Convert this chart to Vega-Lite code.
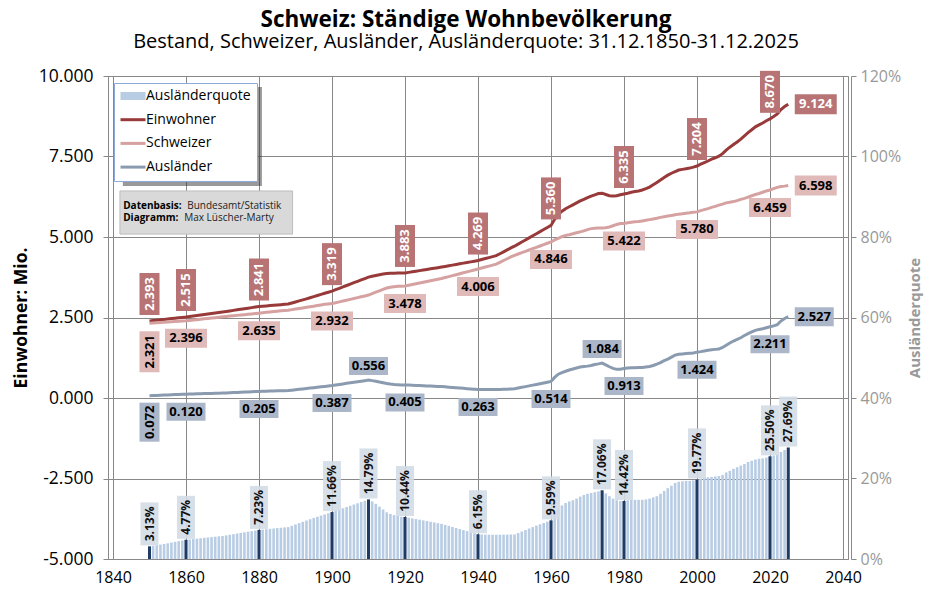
{
  "$schema": "https://vega.github.io/schema/vega-lite/v6.json",
  "width": 740,
  "height": 483,
  "autosize": {"type": "none"},
  "padding": {"left": 108, "top": 76, "right": 83, "bottom": 38},
  "background": "white",
  "config": {
    "font": "Open Sans",
    "view": {"stroke": "#888"},
    "axis": {"gridColor": "#888", "gridOpacity": 1, "domainColor": "#888", "tickColor": "#888"}
  },
  "title": {
    "text": "Schweiz: Ständige Wohnbevölkerung",
    "subtitle": "Bestand, Schweizer, Ausländer, Ausländerquote: 31.12.1850-31.12.2025",
    "anchor": "middle",
    "frame": "group",
    "dx": -12,
    "offset": 15,
    "fontSize": 22.5,
    "fontWeight": "bold",
    "color": "black",
    "subtitleFontSize": 20,
    "subtitleColor": "black",
    "subtitlePadding": 1
  },
  "data": {
    "values": [
      {"year": 1850, "Einwohner": 2.393, "Schweizer": 2.321, "Ausländer": 0.072, "quote": 0.0313},
      {"year": 1851, "Einwohner": 2.405, "Schweizer": 2.329, "Ausländer": 0.077, "quote": 0.0328},
      {"year": 1852, "Einwohner": 2.417, "Schweizer": 2.336, "Ausländer": 0.081, "quote": 0.0343},
      {"year": 1853, "Einwohner": 2.429, "Schweizer": 2.344, "Ausländer": 0.086, "quote": 0.0358},
      {"year": 1854, "Einwohner": 2.441, "Schweizer": 2.351, "Ausländer": 0.091, "quote": 0.0373},
      {"year": 1855, "Einwohner": 2.454, "Schweizer": 2.359, "Ausländer": 0.096, "quote": 0.0390},
      {"year": 1856, "Einwohner": 2.466, "Schweizer": 2.366, "Ausländer": 0.101, "quote": 0.0408},
      {"year": 1857, "Einwohner": 2.478, "Schweizer": 2.374, "Ausländer": 0.106, "quote": 0.0426},
      {"year": 1858, "Einwohner": 2.490, "Schweizer": 2.381, "Ausländer": 0.110, "quote": 0.0443},
      {"year": 1859, "Einwohner": 2.503, "Schweizer": 2.389, "Ausländer": 0.115, "quote": 0.0460},
      {"year": 1860, "Einwohner": 2.515, "Schweizer": 2.396, "Ausländer": 0.120, "quote": 0.0477},
      {"year": 1861, "Einwohner": 2.530, "Schweizer": 2.408, "Ausländer": 0.123, "quote": 0.0487},
      {"year": 1862, "Einwohner": 2.546, "Schweizer": 2.421, "Ausländer": 0.126, "quote": 0.0496},
      {"year": 1863, "Einwohner": 2.561, "Schweizer": 2.433, "Ausländer": 0.130, "quote": 0.0506},
      {"year": 1864, "Einwohner": 2.576, "Schweizer": 2.446, "Ausländer": 0.133, "quote": 0.0516},
      {"year": 1865, "Einwohner": 2.592, "Schweizer": 2.458, "Ausländer": 0.136, "quote": 0.0526},
      {"year": 1866, "Einwohner": 2.607, "Schweizer": 2.470, "Ausländer": 0.139, "quote": 0.0535},
      {"year": 1867, "Einwohner": 2.623, "Schweizer": 2.483, "Ausländer": 0.142, "quote": 0.0545},
      {"year": 1868, "Einwohner": 2.638, "Schweizer": 2.495, "Ausländer": 0.145, "quote": 0.0554},
      {"year": 1869, "Einwohner": 2.653, "Schweizer": 2.508, "Ausländer": 0.148, "quote": 0.0563},
      {"year": 1870, "Einwohner": 2.669, "Schweizer": 2.520, "Ausländer": 0.152, "quote": 0.0572},
      {"year": 1871, "Einwohner": 2.686, "Schweizer": 2.532, "Ausländer": 0.157, "quote": 0.0587},
      {"year": 1872, "Einwohner": 2.703, "Schweizer": 2.543, "Ausländer": 0.163, "quote": 0.0602},
      {"year": 1873, "Einwohner": 2.721, "Schweizer": 2.555, "Ausländer": 0.168, "quote": 0.0617},
      {"year": 1874, "Einwohner": 2.738, "Schweizer": 2.566, "Ausländer": 0.173, "quote": 0.0632},
      {"year": 1875, "Einwohner": 2.755, "Schweizer": 2.578, "Ausländer": 0.178, "quote": 0.0647},
      {"year": 1876, "Einwohner": 2.772, "Schweizer": 2.589, "Ausländer": 0.184, "quote": 0.0663},
      {"year": 1877, "Einwohner": 2.789, "Schweizer": 2.601, "Ausländer": 0.189, "quote": 0.0678},
      {"year": 1878, "Einwohner": 2.807, "Schweizer": 2.612, "Ausländer": 0.195, "quote": 0.0693},
      {"year": 1879, "Einwohner": 2.824, "Schweizer": 2.624, "Ausländer": 0.200, "quote": 0.0708},
      {"year": 1880, "Einwohner": 2.841, "Schweizer": 2.635, "Ausländer": 0.205, "quote": 0.0723},
      {"year": 1881, "Einwohner": 2.851, "Schweizer": 2.648, "Ausländer": 0.208, "quote": 0.0731},
      {"year": 1882, "Einwohner": 2.860, "Schweizer": 2.660, "Ausländer": 0.212, "quote": 0.0740},
      {"year": 1883, "Einwohner": 2.870, "Schweizer": 2.672, "Ausländer": 0.215, "quote": 0.0749},
      {"year": 1884, "Einwohner": 2.880, "Schweizer": 2.684, "Ausländer": 0.218, "quote": 0.0758},
      {"year": 1885, "Einwohner": 2.889, "Schweizer": 2.696, "Ausländer": 0.222, "quote": 0.0767},
      {"year": 1886, "Einwohner": 2.899, "Schweizer": 2.708, "Ausländer": 0.225, "quote": 0.0776},
      {"year": 1887, "Einwohner": 2.909, "Schweizer": 2.718, "Ausländer": 0.228, "quote": 0.0784},
      {"year": 1888, "Einwohner": 2.918, "Schweizer": 2.728, "Ausländer": 0.231, "quote": 0.0792},
      {"year": 1889, "Einwohner": 2.950, "Schweizer": 2.745, "Ausländer": 0.244, "quote": 0.0825},
      {"year": 1890, "Einwohner": 2.983, "Schweizer": 2.763, "Ausländer": 0.256, "quote": 0.0858},
      {"year": 1891, "Einwohner": 3.015, "Schweizer": 2.780, "Ausländer": 0.269, "quote": 0.0891},
      {"year": 1892, "Einwohner": 3.048, "Schweizer": 2.798, "Ausländer": 0.282, "quote": 0.0924},
      {"year": 1893, "Einwohner": 3.080, "Schweizer": 2.815, "Ausländer": 0.294, "quote": 0.0956},
      {"year": 1894, "Einwohner": 3.113, "Schweizer": 2.833, "Ausländer": 0.307, "quote": 0.0988},
      {"year": 1895, "Einwohner": 3.147, "Schweizer": 2.851, "Ausländer": 0.320, "quote": 0.1020},
      {"year": 1896, "Einwohner": 3.182, "Schweizer": 2.871, "Ausländer": 0.334, "quote": 0.1049},
      {"year": 1897, "Einwohner": 3.217, "Schweizer": 2.891, "Ausländer": 0.347, "quote": 0.1079},
      {"year": 1898, "Einwohner": 3.252, "Schweizer": 2.911, "Ausländer": 0.360, "quote": 0.1108},
      {"year": 1899, "Einwohner": 3.286, "Schweizer": 2.922, "Ausländer": 0.374, "quote": 0.1137},
      {"year": 1900, "Einwohner": 3.319, "Schweizer": 2.932, "Ausländer": 0.387, "quote": 0.1166},
      {"year": 1901, "Einwohner": 3.363, "Schweizer": 2.958, "Ausländer": 0.404, "quote": 0.1197},
      {"year": 1902, "Einwohner": 3.406, "Schweizer": 2.985, "Ausländer": 0.421, "quote": 0.1228},
      {"year": 1903, "Einwohner": 3.450, "Schweizer": 3.011, "Ausländer": 0.438, "quote": 0.1260},
      {"year": 1904, "Einwohner": 3.493, "Schweizer": 3.038, "Ausländer": 0.455, "quote": 0.1291},
      {"year": 1905, "Einwohner": 3.536, "Schweizer": 3.064, "Ausländer": 0.472, "quote": 0.1322},
      {"year": 1906, "Einwohner": 3.580, "Schweizer": 3.091, "Ausländer": 0.489, "quote": 0.1354},
      {"year": 1907, "Einwohner": 3.623, "Schweizer": 3.117, "Ausländer": 0.505, "quote": 0.1385},
      {"year": 1908, "Einwohner": 3.667, "Schweizer": 3.144, "Ausländer": 0.522, "quote": 0.1416},
      {"year": 1909, "Einwohner": 3.710, "Schweizer": 3.170, "Ausländer": 0.539, "quote": 0.1448},
      {"year": 1910, "Einwohner": 3.753, "Schweizer": 3.197, "Ausländer": 0.556, "quote": 0.1479},
      {"year": 1911, "Einwohner": 3.780, "Schweizer": 3.240, "Ausländer": 0.540, "quote": 0.1430},
      {"year": 1912, "Einwohner": 3.805, "Schweizer": 3.285, "Ausländer": 0.520, "quote": 0.1370},
      {"year": 1913, "Einwohner": 3.828, "Schweizer": 3.330, "Ausländer": 0.498, "quote": 0.1300},
      {"year": 1914, "Einwohner": 3.850, "Schweizer": 3.375, "Ausländer": 0.475, "quote": 0.1230},
      {"year": 1915, "Einwohner": 3.865, "Schweizer": 3.415, "Ausländer": 0.450, "quote": 0.1160},
      {"year": 1916, "Einwohner": 3.872, "Schweizer": 3.440, "Ausländer": 0.432, "quote": 0.1120},
      {"year": 1917, "Einwohner": 3.878, "Schweizer": 3.458, "Ausländer": 0.420, "quote": 0.1090},
      {"year": 1918, "Einwohner": 3.880, "Schweizer": 3.468, "Ausländer": 0.412, "quote": 0.1070},
      {"year": 1919, "Einwohner": 3.880, "Schweizer": 3.474, "Ausländer": 0.406, "quote": 0.1050},
      {"year": 1920, "Einwohner": 3.883, "Schweizer": 3.478, "Ausländer": 0.405, "quote": 0.1044},
      {"year": 1921, "Einwohner": 3.901, "Schweizer": 3.501, "Ausländer": 0.400, "quote": 0.1027},
      {"year": 1922, "Einwohner": 3.920, "Schweizer": 3.525, "Ausländer": 0.395, "quote": 0.1010},
      {"year": 1923, "Einwohner": 3.938, "Schweizer": 3.548, "Ausländer": 0.390, "quote": 0.0993},
      {"year": 1924, "Einwohner": 3.956, "Schweizer": 3.571, "Ausländer": 0.385, "quote": 0.0976},
      {"year": 1925, "Einwohner": 3.975, "Schweizer": 3.595, "Ausländer": 0.380, "quote": 0.0959},
      {"year": 1926, "Einwohner": 3.993, "Schweizer": 3.618, "Ausländer": 0.375, "quote": 0.0942},
      {"year": 1927, "Einwohner": 4.011, "Schweizer": 3.641, "Ausländer": 0.370, "quote": 0.0925},
      {"year": 1928, "Einwohner": 4.029, "Schweizer": 3.664, "Ausländer": 0.365, "quote": 0.0908},
      {"year": 1929, "Einwohner": 4.048, "Schweizer": 3.688, "Ausländer": 0.360, "quote": 0.0890},
      {"year": 1930, "Einwohner": 4.066, "Schweizer": 3.711, "Ausländer": 0.355, "quote": 0.0873},
      {"year": 1931, "Einwohner": 4.086, "Schweizer": 3.741, "Ausländer": 0.346, "quote": 0.0847},
      {"year": 1932, "Einwohner": 4.107, "Schweizer": 3.770, "Ausländer": 0.337, "quote": 0.0821},
      {"year": 1933, "Einwohner": 4.127, "Schweizer": 3.800, "Ausländer": 0.327, "quote": 0.0796},
      {"year": 1934, "Einwohner": 4.147, "Schweizer": 3.829, "Ausländer": 0.318, "quote": 0.0770},
      {"year": 1935, "Einwohner": 4.168, "Schweizer": 3.859, "Ausländer": 0.309, "quote": 0.0744},
      {"year": 1936, "Einwohner": 4.188, "Schweizer": 3.888, "Ausländer": 0.300, "quote": 0.0718},
      {"year": 1937, "Einwohner": 4.208, "Schweizer": 3.918, "Ausländer": 0.291, "quote": 0.0692},
      {"year": 1938, "Einwohner": 4.228, "Schweizer": 3.947, "Ausländer": 0.281, "quote": 0.0667},
      {"year": 1939, "Einwohner": 4.249, "Schweizer": 3.977, "Ausländer": 0.272, "quote": 0.0641},
      {"year": 1940, "Einwohner": 4.269, "Schweizer": 4.006, "Ausländer": 0.263, "quote": 0.0615},
      {"year": 1941, "Einwohner": 4.300, "Schweizer": 4.036, "Ausländer": 0.262, "quote": 0.0610},
      {"year": 1942, "Einwohner": 4.330, "Schweizer": 4.066, "Ausländer": 0.262, "quote": 0.0605},
      {"year": 1943, "Einwohner": 4.360, "Schweizer": 4.097, "Ausländer": 0.262, "quote": 0.0603},
      {"year": 1944, "Einwohner": 4.390, "Schweizer": 4.127, "Ausländer": 0.263, "quote": 0.0602},
      {"year": 1945, "Einwohner": 4.420, "Schweizer": 4.157, "Ausländer": 0.264, "quote": 0.0602},
      {"year": 1946, "Einwohner": 4.480, "Schweizer": 4.214, "Ausländer": 0.266, "quote": 0.0603},
      {"year": 1947, "Einwohner": 4.540, "Schweizer": 4.270, "Ausländer": 0.270, "quote": 0.0605},
      {"year": 1948, "Einwohner": 4.600, "Schweizer": 4.325, "Ausländer": 0.275, "quote": 0.0607},
      {"year": 1949, "Einwohner": 4.660, "Schweizer": 4.380, "Ausländer": 0.280, "quote": 0.0609},
      {"year": 1950, "Einwohner": 4.715, "Schweizer": 4.430, "Ausländer": 0.285, "quote": 0.0610},
      {"year": 1951, "Einwohner": 4.780, "Schweizer": 4.472, "Ausländer": 0.308, "quote": 0.0644},
      {"year": 1952, "Einwohner": 4.844, "Schweizer": 4.513, "Ausländer": 0.331, "quote": 0.0683},
      {"year": 1953, "Einwohner": 4.909, "Schweizer": 4.555, "Ausländer": 0.354, "quote": 0.0720},
      {"year": 1954, "Einwohner": 4.973, "Schweizer": 4.596, "Ausländer": 0.377, "quote": 0.0757},
      {"year": 1955, "Einwohner": 5.038, "Schweizer": 4.638, "Ausländer": 0.400, "quote": 0.0793},
      {"year": 1956, "Einwohner": 5.102, "Schweizer": 4.680, "Ausländer": 0.422, "quote": 0.0828},
      {"year": 1957, "Einwohner": 5.167, "Schweizer": 4.721, "Ausländer": 0.445, "quote": 0.0862},
      {"year": 1958, "Einwohner": 5.231, "Schweizer": 4.763, "Ausländer": 0.468, "quote": 0.0895},
      {"year": 1959, "Einwohner": 5.296, "Schweizer": 4.805, "Ausländer": 0.491, "quote": 0.0927},
      {"year": 1960, "Einwohner": 5.360, "Schweizer": 4.846, "Ausländer": 0.514, "quote": 0.0959},
      {"year": 1961, "Einwohner": 5.550, "Schweizer": 4.910, "Ausländer": 0.640, "quote": 0.1150},
      {"year": 1962, "Einwohner": 5.700, "Schweizer": 4.960, "Ausländer": 0.740, "quote": 0.1250},
      {"year": 1963, "Einwohner": 5.800, "Schweizer": 5.010, "Ausländer": 0.790, "quote": 0.1330},
      {"year": 1964, "Einwohner": 5.880, "Schweizer": 5.050, "Ausländer": 0.830, "quote": 0.1390},
      {"year": 1965, "Einwohner": 5.940, "Schweizer": 5.070, "Ausländer": 0.870, "quote": 0.1430},
      {"year": 1966, "Einwohner": 6.000, "Schweizer": 5.100, "Ausländer": 0.900, "quote": 0.1460},
      {"year": 1967, "Einwohner": 6.060, "Schweizer": 5.130, "Ausländer": 0.930, "quote": 0.1500},
      {"year": 1968, "Einwohner": 6.120, "Schweizer": 5.160, "Ausländer": 0.960, "quote": 0.1550},
      {"year": 1969, "Einwohner": 6.170, "Schweizer": 5.190, "Ausländer": 0.980, "quote": 0.1590},
      {"year": 1970, "Einwohner": 6.220, "Schweizer": 5.230, "Ausländer": 0.990, "quote": 0.1620},
      {"year": 1971, "Einwohner": 6.270, "Schweizer": 5.260, "Ausländer": 1.010, "quote": 0.1640},
      {"year": 1972, "Einwohner": 6.310, "Schweizer": 5.270, "Ausländer": 1.040, "quote": 0.1660},
      {"year": 1973, "Einwohner": 6.350, "Schweizer": 5.280, "Ausländer": 1.060, "quote": 0.1680},
      {"year": 1974, "Einwohner": 6.360, "Schweizer": 5.280, "Ausländer": 1.084, "quote": 0.1706},
      {"year": 1975, "Einwohner": 6.320, "Schweizer": 5.290, "Ausländer": 1.030, "quote": 0.1630},
      {"year": 1976, "Einwohner": 6.280, "Schweizer": 5.310, "Ausländer": 0.970, "quote": 0.1560},
      {"year": 1977, "Einwohner": 6.270, "Schweizer": 5.350, "Ausländer": 0.920, "quote": 0.1500},
      {"year": 1978, "Einwohner": 6.280, "Schweizer": 5.390, "Ausländer": 0.890, "quote": 0.1460},
      {"year": 1979, "Einwohner": 6.310, "Schweizer": 5.420, "Ausländer": 0.890, "quote": 0.1440},
      {"year": 1980, "Einwohner": 6.335, "Schweizer": 5.422, "Ausländer": 0.913, "quote": 0.1442},
      {"year": 1981, "Einwohner": 6.360, "Schweizer": 5.440, "Ausländer": 0.930, "quote": 0.1460},
      {"year": 1982, "Einwohner": 6.390, "Schweizer": 5.460, "Ausländer": 0.940, "quote": 0.1470},
      {"year": 1983, "Einwohner": 6.410, "Schweizer": 5.470, "Ausländer": 0.940, "quote": 0.1470},
      {"year": 1984, "Einwohner": 6.430, "Schweizer": 5.480, "Ausländer": 0.945, "quote": 0.1470},
      {"year": 1985, "Einwohner": 6.460, "Schweizer": 5.500, "Ausländer": 0.950, "quote": 0.1470},
      {"year": 1986, "Einwohner": 6.500, "Schweizer": 5.520, "Ausländer": 0.965, "quote": 0.1480},
      {"year": 1987, "Einwohner": 6.550, "Schweizer": 5.540, "Ausländer": 0.980, "quote": 0.1500},
      {"year": 1988, "Einwohner": 6.620, "Schweizer": 5.560, "Ausländer": 1.010, "quote": 0.1530},
      {"year": 1989, "Einwohner": 6.690, "Schweizer": 5.580, "Ausländer": 1.050, "quote": 0.1560},
      {"year": 1990, "Einwohner": 6.770, "Schweizer": 5.610, "Ausländer": 1.100, "quote": 0.1620},
      {"year": 1991, "Einwohner": 6.850, "Schweizer": 5.630, "Ausländer": 1.160, "quote": 0.1690},
      {"year": 1992, "Einwohner": 6.920, "Schweizer": 5.650, "Ausländer": 1.210, "quote": 0.1760},
      {"year": 1993, "Einwohner": 6.980, "Schweizer": 5.670, "Ausländer": 1.270, "quote": 0.1820},
      {"year": 1994, "Einwohner": 7.030, "Schweizer": 5.690, "Ausländer": 1.330, "quote": 0.1890},
      {"year": 1995, "Einwohner": 7.080, "Schweizer": 5.710, "Ausländer": 1.360, "quote": 0.1920},
      {"year": 1996, "Einwohner": 7.100, "Schweizer": 5.720, "Ausländer": 1.370, "quote": 0.1930},
      {"year": 1997, "Einwohner": 7.120, "Schweizer": 5.740, "Ausländer": 1.380, "quote": 0.1940},
      {"year": 1998, "Einwohner": 7.140, "Schweizer": 5.750, "Ausländer": 1.390, "quote": 0.1940},
      {"year": 1999, "Einwohner": 7.170, "Schweizer": 5.770, "Ausländer": 1.400, "quote": 0.1950},
      {"year": 2000, "Einwohner": 7.204, "Schweizer": 5.780, "Ausländer": 1.424, "quote": 0.1977},
      {"year": 2001, "Einwohner": 7.260, "Schweizer": 5.820, "Ausländer": 1.440, "quote": 0.2000},
      {"year": 2002, "Einwohner": 7.310, "Schweizer": 5.850, "Ausländer": 1.460, "quote": 0.2020},
      {"year": 2003, "Einwohner": 7.360, "Schweizer": 5.880, "Ausländer": 1.480, "quote": 0.2030},
      {"year": 2004, "Einwohner": 7.420, "Schweizer": 5.920, "Ausländer": 1.500, "quote": 0.2040},
      {"year": 2005, "Einwohner": 7.460, "Schweizer": 5.950, "Ausländer": 1.510, "quote": 0.2050},
      {"year": 2006, "Einwohner": 7.510, "Schweizer": 5.990, "Ausländer": 1.520, "quote": 0.2060},
      {"year": 2007, "Einwohner": 7.590, "Schweizer": 6.020, "Ausländer": 1.570, "quote": 0.2090},
      {"year": 2008, "Einwohner": 7.700, "Schweizer": 6.060, "Ausländer": 1.640, "quote": 0.2150},
      {"year": 2009, "Einwohner": 7.790, "Schweizer": 6.080, "Ausländer": 1.710, "quote": 0.2190},
      {"year": 2010, "Einwohner": 7.870, "Schweizer": 6.100, "Ausländer": 1.770, "quote": 0.2240},
      {"year": 2011, "Einwohner": 7.950, "Schweizer": 6.130, "Ausländer": 1.820, "quote": 0.2280},
      {"year": 2012, "Einwohner": 8.040, "Schweizer": 6.170, "Ausländer": 1.870, "quote": 0.2320},
      {"year": 2013, "Einwohner": 8.140, "Schweizer": 6.200, "Ausländer": 1.940, "quote": 0.2360},
      {"year": 2014, "Einwohner": 8.240, "Schweizer": 6.240, "Ausländer": 2.000, "quote": 0.2410},
      {"year": 2015, "Einwohner": 8.330, "Schweizer": 6.280, "Ausländer": 2.050, "quote": 0.2440},
      {"year": 2016, "Einwohner": 8.420, "Schweizer": 6.320, "Ausländer": 2.100, "quote": 0.2470},
      {"year": 2017, "Einwohner": 8.480, "Schweizer": 6.350, "Ausländer": 2.130, "quote": 0.2490},
      {"year": 2018, "Einwohner": 8.540, "Schweizer": 6.390, "Ausländer": 2.150, "quote": 0.2500},
      {"year": 2019, "Einwohner": 8.610, "Schweizer": 6.430, "Ausländer": 2.180, "quote": 0.2520},
      {"year": 2020, "Einwohner": 8.670, "Schweizer": 6.459, "Ausländer": 2.211, "quote": 0.2550},
      {"year": 2021, "Einwohner": 8.740, "Schweizer": 6.500, "Ausländer": 2.240, "quote": 0.2570},
      {"year": 2022, "Einwohner": 8.820, "Schweizer": 6.540, "Ausländer": 2.280, "quote": 0.2600},
      {"year": 2023, "Einwohner": 8.960, "Schweizer": 6.570, "Ausländer": 2.390, "quote": 0.2660},
      {"year": 2024, "Einwohner": 9.050, "Schweizer": 6.580, "Ausländer": 2.470, "quote": 0.2710},
      {"year": 2025, "Einwohner": 9.124, "Schweizer": 6.598, "Ausländer": 2.527, "quote": 0.2769}
    ]
  },
  "encoding": {
    "x": {
      "field": "year",
      "type": "quantitative",
      "scale": {"domain": [1840, 2040], "nice": false, "zero": false},
      "axis": {
        "values": [1840, 1860, 1880, 1900, 1920, 1940, 1960, 1980, 2000, 2020, 2040],
        "format": "d",
        "title": null,
        "grid": true,
        "ticks": false,
        "labelFlush": false,
        "labelOverlap": false,
        "labelFontSize": 16,
        "labelColor": "black",
        "labelPadding": 10
      }
    }
  },
  "layer": [
    {
      "encoding": {
        "y": {
          "field": "quote",
          "type": "quantitative",
          "scale": {"domain": [0, 1.2], "nice": false},
          "axis": {
            "orient": "right",
            "values": [0, 0.2, 0.4, 0.6, 0.8, 1.0, 1.2],
            "format": ".0%",
            "grid": false,
            "offset": 3,
            "tickSize": 5,
            "labelPadding": 4,
            "labelFontSize": 16,
            "labelColor": "#999",
            "title": "Ausländerquote",
            "titleAngle": 270,
            "titleColor": "#999",
            "titleFontSize": 15,
            "titleFontWeight": "bold",
            "titlePadding": 22
          }
        }
      },
      "layer": [
        {
          "mark": {"type": "bar", "width": 2.6},
          "encoding": {"color": {"datum": "Ausländerquote"}}
        },
        {
          "transform": [{"filter": {"field": "year", "oneOf": [1850, 1860, 1880, 1900, 1910, 1920, 1940, 1960, 1974, 1980, 2000, 2020, 2025]}}],
          "mark": {"type": "bar", "width": 3, "color": "#1f3a63"}
        },
        {
          "transform": [
            {"filter": {"field": "year", "oneOf": [1850, 1860, 1880, 1900, 1910, 1920, 1940, 1960, 1974, 1980, 2000, 2020, 2025]}},
            {"filter": "datum.quote < 0.1"}
          ],
          "mark": {"type": "rect", "color": "#d3dbe7", "opacity": 0.9, "xOffset": -9, "x2Offset": 9, "yOffset": -44, "y2Offset": -1},
          "encoding": {"x2": {"field": "year"}, "y2": {"field": "quote"}}
        },
        {
          "transform": [
            {"filter": {"field": "year", "oneOf": [1850, 1860, 1880, 1900, 1910, 1920, 1940, 1960, 1974, 1980, 2000, 2020, 2025]}},
            {"filter": "datum.quote >= 0.1"}
          ],
          "mark": {"type": "rect", "color": "#d3dbe7", "opacity": 0.9, "xOffset": -9, "x2Offset": 9, "yOffset": -51, "y2Offset": -1},
          "encoding": {"x2": {"field": "year"}, "y2": {"field": "quote"}}
        },
        {
          "transform": [
            {"filter": {"field": "year", "oneOf": [1850, 1860, 1880, 1900, 1910, 1920, 1940, 1960, 1974, 1980, 2000, 2020, 2025]}},
            {"filter": "datum.quote < 0.1"}
          ],
          "mark": {"type": "text", "angle": 270, "fontSize": 12, "fontWeight": "bold", "color": "#111", "baseline": "middle", "align": "center", "yOffset": -22.5},
          "encoding": {"text": {"field": "quote", "format": ".2%"}}
        },
        {
          "transform": [
            {"filter": {"field": "year", "oneOf": [1850, 1860, 1880, 1900, 1910, 1920, 1940, 1960, 1974, 1980, 2000, 2020, 2025]}},
            {"filter": "datum.quote >= 0.1"}
          ],
          "mark": {"type": "text", "angle": 270, "fontSize": 12, "fontWeight": "bold", "color": "#111", "baseline": "middle", "align": "center", "yOffset": -26},
          "encoding": {"text": {"field": "quote", "format": ".2%"}}
        }
      ]
    },
    {
      "transform": [{"fold": ["Einwohner", "Schweizer", "Ausländer"], "as": ["serie", "wert"]}],
      "encoding": {
        "y": {
          "field": "wert",
          "type": "quantitative",
          "scale": {"domain": [-5, 10], "nice": false, "zero": false},
          "axis": {
            "orient": "left",
            "values": [-5, -2.5, 0, 2.5, 5, 7.5, 10],
            "labelExpr": "replace(format(datum.value, '.3f'), '−', '-')",
            "grid": true,
            "tickSize": 5,
            "labelPadding": 10,
            "labelFontSize": 17.5,
            "labelColor": "black",
            "title": "Einwohner: Mio.",
            "titleFontSize": 17.5,
            "titleFontWeight": "bold",
            "titleColor": "black",
            "titlePadding": 8
          }
        }
      },
      "layer": [
        {
          "mark": {"type": "line", "strokeWidth": 3},
          "encoding": {
            "color": {
              "field": "serie",
              "type": "nominal",
              "scale": {
                "domain": ["Ausländerquote", "Einwohner", "Schweizer", "Ausländer"],
                "range": ["#b8cce4", "#983a3a", "#d6a1a1", "#8a9bb0"]
              },
              "legend": {
                "title": null,
                "orient": "none",
                "legendX": 6,
                "legendY": 7,
                "symbolType": "stroke",
                "symbolSize": 625,
                "symbolStrokeWidth": 3,
                "symbolOffset": 6,
                "labelFontSize": 14,
                "labelColor": "black",
                "labelOffset": 6,
                "padding": 6,
                "rowPadding": 9.7,
                "strokeColor": "#8eaadb",
                "fillColor": "white",
                "encode": {
                  "symbols": {
                    "update": {
                      "shape": {"signal": "datum.value === 'Ausländerquote' ? 'M-1,-0.32H1V0.32H-1Z' : 'stroke'"},
                      "stroke": {"scale": "color", "field": "value"},
                      "fill": {"signal": "datum.value === 'Ausländerquote' ? '#b8cce4' : 'transparent'"},
                      "strokeWidth": {"signal": "datum.value === 'Ausländerquote' ? 0 : 3"}
                    }
                  }
                }
              }
            }
          }
        },
        {
          "transform": [
            {"filter": {"field": "serie", "equal": "Einwohner"}},
            {"filter": {"field": "year", "oneOf": [1850, 1860, 1880, 1900, 1920, 1940, 1960, 1980, 2000, 2020]}}
          ],
          "mark": {"type": "rect", "color": "#b87474", "xOffset": -10, "x2Offset": 10, "yOffset": -48, "y2Offset": -6},
          "encoding": {"x2": {"field": "year"}, "y2": {"field": "wert"}}
        },
        {
          "transform": [
            {"filter": {"field": "serie", "equal": "Einwohner"}},
            {"filter": {"field": "year", "oneOf": [1850, 1860, 1880, 1900, 1920, 1940, 1960, 1980, 2000, 2020]}}
          ],
          "mark": {"type": "text", "angle": 270, "fontSize": 13, "fontWeight": "bold", "color": "white", "align": "center", "baseline": "middle", "yOffset": -27},
          "encoding": {"text": {"field": "wert", "format": ".3f"}}
        },
        {
          "transform": [
            {"filter": {"field": "serie", "equal": "Einwohner"}},
            {"filter": {"field": "year", "equal": 2025}}
          ],
          "mark": {"type": "rect", "color": "#b87474", "xOffset": 6.5, "x2Offset": 48.5, "yOffset": -10, "y2Offset": 10},
          "encoding": {"x2": {"field": "year"}, "y2": {"field": "wert"}}
        },
        {
          "transform": [
            {"filter": {"field": "serie", "equal": "Einwohner"}},
            {"filter": {"field": "year", "equal": 2025}}
          ],
          "mark": {"type": "text", "fontSize": 13, "fontWeight": "bold", "color": "white", "align": "center", "baseline": "middle", "xOffset": 27.5},
          "encoding": {"text": {"field": "wert", "format": ".3f"}}
        },
        {
          "transform": [
            {"filter": {"field": "serie", "equal": "Schweizer"}},
            {"filter": {"field": "year", "oneOf": [1860, 1880, 1900, 1920, 1940, 1960, 1980, 2000, 2020]}}
          ],
          "mark": {"type": "rect", "color": "#e0b9b9", "xOffset": -21, "x2Offset": 21, "yOffset": 8, "y2Offset": 27},
          "encoding": {"x2": {"field": "year"}, "y2": {"field": "wert"}}
        },
        {
          "transform": [
            {"filter": {"field": "serie", "equal": "Schweizer"}},
            {"filter": {"field": "year", "oneOf": [1860, 1880, 1900, 1920, 1940, 1960, 1980, 2000, 2020]}}
          ],
          "mark": {"type": "text", "fontSize": 13, "fontWeight": "bold", "color": "black", "align": "center", "baseline": "middle", "yOffset": 17.5},
          "encoding": {"text": {"field": "wert", "format": ".3f"}}
        },
        {
          "transform": [
            {"filter": {"field": "serie", "equal": "Schweizer"}},
            {"filter": {"field": "year", "equal": 1850}}
          ],
          "mark": {"type": "rect", "color": "#e0b9b9", "xOffset": -10, "x2Offset": 10, "yOffset": 8, "y2Offset": 49},
          "encoding": {"x2": {"field": "year"}, "y2": {"field": "wert"}}
        },
        {
          "transform": [
            {"filter": {"field": "serie", "equal": "Schweizer"}},
            {"filter": {"field": "year", "equal": 1850}}
          ],
          "mark": {"type": "text", "angle": 270, "fontSize": 13, "fontWeight": "bold", "color": "black", "align": "center", "baseline": "middle", "yOffset": 28.5},
          "encoding": {"text": {"field": "wert", "format": ".3f"}}
        },
        {
          "transform": [
            {"filter": {"field": "serie", "equal": "Schweizer"}},
            {"filter": {"field": "year", "equal": 2025}}
          ],
          "mark": {"type": "rect", "color": "#e0b9b9", "xOffset": 6.5, "x2Offset": 48.5, "yOffset": -10, "y2Offset": 10},
          "encoding": {"x2": {"field": "year"}, "y2": {"field": "wert"}}
        },
        {
          "transform": [
            {"filter": {"field": "serie", "equal": "Schweizer"}},
            {"filter": {"field": "year", "equal": 2025}}
          ],
          "mark": {"type": "text", "fontSize": 13, "fontWeight": "bold", "color": "black", "align": "center", "baseline": "middle", "xOffset": 27.5},
          "encoding": {"text": {"field": "wert", "format": ".3f"}}
        },
        {
          "transform": [
            {"filter": {"field": "serie", "equal": "Ausländer"}},
            {"filter": {"field": "year", "oneOf": [1860, 1880, 1900, 1920, 1940, 1960, 1980, 2000, 2020]}}
          ],
          "mark": {"type": "rect", "color": "#abb7c8", "xOffset": -19.5, "x2Offset": 19.5, "yOffset": 8.5, "y2Offset": 26.5},
          "encoding": {"x2": {"field": "year"}, "y2": {"field": "wert"}}
        },
        {
          "transform": [
            {"filter": {"field": "serie", "equal": "Ausländer"}},
            {"filter": {"field": "year", "oneOf": [1860, 1880, 1900, 1920, 1940, 1960, 1980, 2000, 2020]}}
          ],
          "mark": {"type": "text", "fontSize": 13, "fontWeight": "bold", "color": "black", "align": "center", "baseline": "middle", "yOffset": 17.5},
          "encoding": {"text": {"field": "wert", "format": ".3f"}}
        },
        {
          "transform": [
            {"filter": {"field": "serie", "equal": "Ausländer"}},
            {"filter": {"field": "year", "oneOf": [1910, 1974]}}
          ],
          "mark": {"type": "rect", "color": "#abb7c8", "xOffset": -19.5, "x2Offset": 19.5, "yOffset": -23, "y2Offset": -5},
          "encoding": {"x2": {"field": "year"}, "y2": {"field": "wert"}}
        },
        {
          "transform": [
            {"filter": {"field": "serie", "equal": "Ausländer"}},
            {"filter": {"field": "year", "oneOf": [1910, 1974]}}
          ],
          "mark": {"type": "text", "fontSize": 13, "fontWeight": "bold", "color": "black", "align": "center", "baseline": "middle", "yOffset": -14},
          "encoding": {"text": {"field": "wert", "format": ".3f"}}
        },
        {
          "transform": [
            {"filter": {"field": "serie", "equal": "Ausländer"}},
            {"filter": {"field": "year", "equal": 1850}}
          ],
          "mark": {"type": "rect", "color": "#abb7c8", "xOffset": -10, "x2Offset": 10, "yOffset": 7, "y2Offset": 46},
          "encoding": {"x2": {"field": "year"}, "y2": {"field": "wert"}}
        },
        {
          "transform": [
            {"filter": {"field": "serie", "equal": "Ausländer"}},
            {"filter": {"field": "year", "equal": 1850}}
          ],
          "mark": {"type": "text", "angle": 270, "fontSize": 13, "fontWeight": "bold", "color": "black", "align": "center", "baseline": "middle", "yOffset": 26.5},
          "encoding": {"text": {"field": "wert", "format": ".3f"}}
        },
        {
          "transform": [
            {"filter": {"field": "serie", "equal": "Ausländer"}},
            {"filter": {"field": "year", "equal": 2025}}
          ],
          "mark": {"type": "rect", "color": "#abb7c8", "xOffset": 6.5, "x2Offset": 45.5, "yOffset": -9.5, "y2Offset": 9.5},
          "encoding": {"x2": {"field": "year"}, "y2": {"field": "wert"}}
        },
        {
          "transform": [
            {"filter": {"field": "serie", "equal": "Ausländer"}},
            {"filter": {"field": "year", "equal": 2025}}
          ],
          "mark": {"type": "text", "fontSize": 13, "fontWeight": "bold", "color": "black", "align": "center", "baseline": "middle", "xOffset": 26},
          "encoding": {"text": {"field": "wert", "format": ".3f"}}
        },
        {
          "transform": [
            {"filter": {"field": "serie", "equal": "Einwohner"}},
            {"filter": {"field": "year", "equal": 1850}}
          ],
          "mark": {"type": "rect", "fill": "#333", "opacity": 0.5},
          "encoding": {
            "x": {"datum": 1842.7, "type": "quantitative"},
            "x2": {"datum": 1880.8},
            "y": {"datum": 9.66, "type": "quantitative", "title": "Einwohner: Mio."},
            "y2": {"datum": 6.58}
          }
        },
        {
          "transform": [
            {"filter": {"field": "serie", "equal": "Einwohner"}},
            {"filter": {"field": "year", "equal": 1850}}
          ],
          "mark": {"type": "rect", "fill": "#d9d9d9", "stroke": "#bdbdbd", "strokeWidth": 1},
          "encoding": {
            "x": {"datum": 1841.9, "type": "quantitative"},
            "x2": {"datum": 1889.2},
            "y": {"datum": 6.43, "type": "quantitative", "title": "Einwohner: Mio."},
            "y2": {"datum": 5.09}
          }
        },
        {
          "transform": [
            {"filter": {"field": "serie", "equal": "Einwohner"}},
            {"filter": {"field": "year", "equal": 1850}}
          ],
          "mark": {"type": "text", "text": "Datenbasis:", "fontSize": 10, "fontWeight": "bold", "color": "black", "align": "left", "baseline": "middle"},
          "encoding": {
            "x": {"datum": 1842.8, "type": "quantitative"},
            "y": {"datum": 5.96, "type": "quantitative", "title": "Einwohner: Mio."}
          }
        },
        {
          "transform": [
            {"filter": {"field": "serie", "equal": "Einwohner"}},
            {"filter": {"field": "year", "equal": 1850}}
          ],
          "mark": {"type": "text", "text": "Bundesamt/Statistik", "fontSize": 10, "color": "#222", "align": "left", "baseline": "middle", "xOffset": 64},
          "encoding": {
            "x": {"datum": 1842.8, "type": "quantitative"},
            "y": {"datum": 5.96, "type": "quantitative", "title": "Einwohner: Mio."}
          }
        },
        {
          "transform": [
            {"filter": {"field": "serie", "equal": "Einwohner"}},
            {"filter": {"field": "year", "equal": 1850}}
          ],
          "mark": {"type": "text", "text": "Diagramm:", "fontSize": 10, "fontWeight": "bold", "color": "black", "align": "left", "baseline": "middle"},
          "encoding": {
            "x": {"datum": 1842.8, "type": "quantitative"},
            "y": {"datum": 5.58, "type": "quantitative", "title": "Einwohner: Mio."}
          }
        },
        {
          "transform": [
            {"filter": {"field": "serie", "equal": "Einwohner"}},
            {"filter": {"field": "year", "equal": 1850}}
          ],
          "mark": {"type": "text", "text": "Max Lüscher-Marty", "fontSize": 10, "color": "#222", "align": "left", "baseline": "middle", "xOffset": 61},
          "encoding": {
            "x": {"datum": 1842.8, "type": "quantitative"},
            "y": {"datum": 5.58, "type": "quantitative", "title": "Einwohner: Mio."}
          }
        }
      ]
    }
  ],
  "resolve": {"scale": {"y": "independent"}}
}
